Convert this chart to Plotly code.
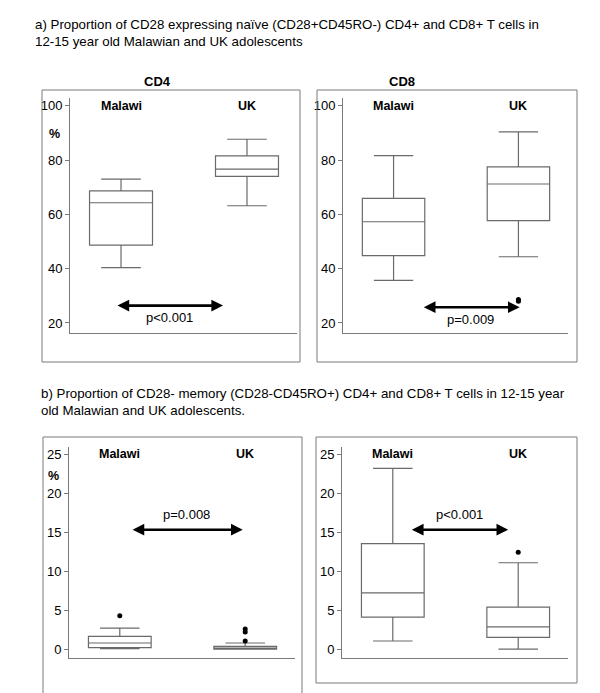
import plotly.graph_objects as go

W, H = 600, 693

groups = ["Malawi", "UK"]

# Panel a) CD4 naive (%)
cd4_naive_q1 = [48.7, 74.0]
cd4_naive_med = [64.3, 76.7]
cd4_naive_q3 = [68.7, 81.6]
cd4_naive_lo = [40.4, 63.2]
cd4_naive_hi = [73.0, 87.7]
cd4_naive_out = [[], []]

# Panel a) CD8 naive (%)
cd8_naive_q1 = [44.8, 57.7]
cd8_naive_med = [57.3, 71.2]
cd8_naive_q3 = [65.9, 77.5]
cd8_naive_lo = [35.7, 44.4]
cd8_naive_hi = [81.7, 90.4]
cd8_naive_out = [[], [28.0, 28.6]]

# Panel b) CD4 memory CD28- (%)
cd4_mem_q1 = [0.17, 0.0]
cd4_mem_med = [0.77, 0.12]
cd4_mem_q3 = [1.62, 0.35]
cd4_mem_lo = [0.05, 0.0]
cd4_mem_hi = [2.69, 0.77]
cd4_mem_out = [[4.27], [1.03, 2.18, 2.56]]

# Panel b) CD8 memory CD28- (%)
cd8_mem_q1 = [4.1, 1.5]
cd8_mem_med = [7.2, 2.83]
cd8_mem_q3 = [13.5, 5.36]
cd8_mem_lo = [1.03, 0.0]
cd8_mem_hi = [23.15, 11.06]
cd8_mem_out = [[], [12.4]]

p_values = ["p<0.001", "p=0.009", "p=0.008", "p<0.001"]
arrow_y = [26.4, 25.8, 15.3, 15.3]
arrow_x = [(-0.04, 0.81), (0.23, 1.01), (0.09, 0.98), (0.14, 0.92)]

ticks_a = [20, 40, 60, 80, 100]
ticks_b = [0, 5, 10, 15, 20, 25]

LINE = "#6a6a6a"
AX = "#7a7a7a"
FONT = "Liberation Sans, Arial, sans-serif"

def px_x(v):
    return v / W

def px_y(v):
    return 1 - v / H

fig = go.Figure()

panels = [
    (cd4_naive_q1, cd4_naive_med, cd4_naive_q3, cd4_naive_lo, cd4_naive_hi, cd4_naive_out),
    (cd8_naive_q1, cd8_naive_med, cd8_naive_q3, cd8_naive_lo, cd8_naive_hi, cd8_naive_out),
    (cd4_mem_q1, cd4_mem_med, cd4_mem_q3, cd4_mem_lo, cd4_mem_hi, cd4_mem_out),
    (cd8_mem_q1, cd8_mem_med, cd8_mem_q3, cd8_mem_lo, cd8_mem_hi, cd8_mem_out),
]

for i, (q1, med, q3, lo, hi, out) in enumerate(panels):
    xa = "x" if i == 0 else f"x{i+1}"
    ya = "y" if i == 0 else f"y{i+1}"
    for g in range(2):
        fig.add_trace(go.Box(
            x=[g], q1=[q1[g]], median=[med[g]], q3=[q3[g]],
            lowerfence=[lo[g]], upperfence=[hi[g]],
            width=0.5, whiskerwidth=0.63,
            line=dict(color=LINE, width=1.2), fillcolor="white",
            boxpoints=False, showlegend=False, hoverinfo="skip",
            xaxis=xa, yaxis=ya,
        ))
        if out[g]:
            fig.add_trace(go.Scatter(
                x=[g] * len(out[g]), y=out[g], mode="markers",
                marker=dict(color="black", size=5),
                showlegend=False, hoverinfo="skip", xaxis=xa, yaxis=ya,
            ))

# axes
xr = [-0.405, 1.397]
ax_common_x = dict(range=xr, showticklabels=False, showgrid=False, zeroline=False,
                   showline=True, linecolor=AX, linewidth=1, ticks="", fixedrange=True)
ax_common_y = dict(showgrid=False, zeroline=False, showline=True, linecolor=AX, linewidth=1,
                   ticks="outside", ticklen=4, tickcolor=AX,
                   tickfont=dict(size=13, color="black", family=FONT))

ya_dom = [px_y(333), px_y(98)]
yb_dom = [px_y(658), px_y(447)]

fig.update_layout(
    xaxis=dict(domain=[px_x(70), px_x(297)], anchor="y", **ax_common_x),
    yaxis=dict(domain=ya_dom, anchor="x", range=[16.3, 102.9], tickvals=ticks_a, **ax_common_y),
    xaxis2=dict(domain=[px_x(343), px_x(568)], anchor="y2", **ax_common_x),
    yaxis2=dict(domain=ya_dom, anchor="x2", range=[16.3, 102.9], tickvals=ticks_a, **ax_common_y),
    xaxis3=dict(domain=[px_x(69), px_x(295)], anchor="y3", **ax_common_x),
    yaxis3=dict(domain=yb_dom, anchor="x3", range=[-1.15, 25.9], tickvals=ticks_b, **ax_common_y),
    xaxis4=dict(domain=[px_x(342), px_x(568)], anchor="y4", **ax_common_x),
    yaxis4=dict(domain=yb_dom, anchor="x4", range=[-1.15, 25.9], tickvals=ticks_b, **ax_common_y),
)

annotations = []
label_y = [100, 100, 25, 25]
for i in range(4):
    xa = "x" if i == 0 else f"x{i+1}"
    ya = "y" if i == 0 else f"y{i+1}"
    for g, name in enumerate(groups):
        annotations.append(dict(x=g, y=label_y[i], xref=xa, yref=ya, text=f"<b>{name}</b>",
                                xanchor="center", yanchor="middle",
                                showarrow=False, font=dict(size=12.5, color="black", family=FONT)))
    x0, x1 = arrow_x[i]
    annotations.append(dict(x=x1, y=arrow_y[i], ax=x0, ay=arrow_y[i], xref=xa, yref=ya,
                            axref=xa, ayref=ya, text="", showarrow=True, arrowhead=2,
                            arrowside="end+start", arrowsize=0.9, arrowwidth=2.6, arrowcolor="black"))
    if i < 2:
        py = arrow_y[i] - 4.5
    else:
        py = arrow_y[i] + 2.0
    annotations.append(dict(x=(x0 + x1) / 2, y=py, xref=xa, yref=ya, text=p_values[i],
                            xanchor="center", yanchor="middle",
                            showarrow=False, font=dict(size=13, color="black", family=FONT)))

def paper_text(x, y, text, size=13, **kw):
    d = dict(x=px_x(x), y=px_y(y), xref="paper", yref="paper", text=text,
             showarrow=False, font=dict(size=size, color="black", family=FONT),
             xanchor="center", yanchor="middle")
    d.update(kw)
    annotations.append(d)

paper_text(54, 134, "<b>%</b>", 12.5)
paper_text(53, 476, "<b>%</b>", 12.5)
paper_text(158, 81, "<b>CD4</b>", 13)
paper_text(402, 81, "<b>CD8</b>", 13)

paper_text(33, 15,
           "a) Proportion of CD28 expressing naïve (CD28+CD45RO-) CD4+ and CD8+ T cells in<br>12-15 year old Malawian and UK adolescents",
           13.3, xanchor="left", yanchor="top", align="left")
paper_text(39, 384,
           "b) Proportion of CD28- memory (CD28-CD45RO+) CD4+ and CD8+ T cells in 12-15 year<br>old Malawian and UK adolescents.",
           13.3, xanchor="left", yanchor="top", align="left")

shapes = [
    dict(type="rect", xref="paper", yref="paper", x0=px_x(42), x1=px_x(300), y0=px_y(362), y1=px_y(90),
         line=dict(color=AX, width=1)),
    dict(type="rect", xref="paper", yref="paper", x0=px_x(317), x1=px_x(577), y0=px_y(362), y1=px_y(90),
         line=dict(color=AX, width=1)),
    dict(type="rect", xref="paper", yref="paper", x0=px_x(316), x1=px_x(577), y0=px_y(683), y1=px_y(437),
         line=dict(color=AX, width=1)),
    dict(type="path", xref="paper", yref="paper",
         path=f"M {px_x(43)},{px_y(693)} L {px_x(43)},{px_y(437)} L {px_x(302)},{px_y(437)} L {px_x(302)},{px_y(693)}",
         line=dict(color=AX, width=1)),
]

fig.update_layout(
    width=W, height=H, margin=dict(l=0, r=0, t=0, b=0),
    paper_bgcolor="white", plot_bgcolor="white",
    font=dict(family=FONT, color="black"),
    annotations=annotations, shapes=shapes, showlegend=False,
)

fig.write_html("out.html", config={"displayModeBar": False},
               post_script="document.body.style.margin='0';document.body.style.overflow='hidden';")
